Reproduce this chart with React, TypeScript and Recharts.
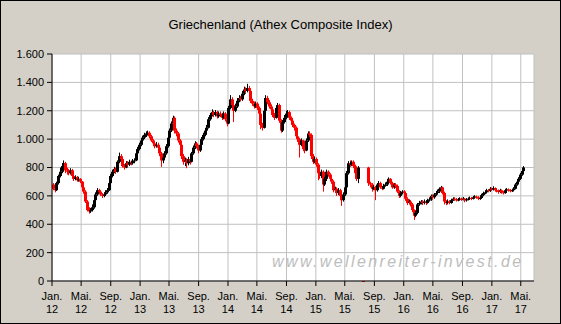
import React from "react";
import { ComposedChart, Bar, XAxis, YAxis, CartesianGrid } from "recharts";

// weekly bars, first week ending 6 Jan 2012
const FIRST_WEEK = Date.UTC(2012, 0, 6);
const WEEK_MS = 7 * 24 * 3600 * 1000;

const opens: (number | null)[] = [
  680, 650, 640, 690, 740, 770, 810, 830, 780, 770,
  760, 780, 740, 720, 730, 710, 720, 700, 660, 630,
  560, 500, 490, 500, 520, 570, 610, 640, 630, 610,
  600, 610, 625, 640, 690, 740, 770, 790, 770, 840,
  880, 860, 810, 800, 830, 820, 840, 830, 845, 850,
  900, 930, 960, 990, 1010, 1030, 1040, 1045, 1020, 990,
  970, 950, 960, 940, 900, 850, 870, 900, 950, 1010,
  1060, 1110, 1150, 1060, 1040, 990, 960, 880, 840, 850,
  830, 860, 840, 900, 940, 970, 950, 920, 960, 1000,
  1030, 1060, 1080, 1140, 1170, 1190, 1170, 1190, 1160, 1180,
  1170, 1150, 1180, 1140, 1110, 1220, 1280, 1240, 1200, 1230,
  1270, 1290, 1280, 1320, 1350, 1340, 1360, 1340, 1270, 1250,
  1230, 1250, 1220, 1180, 1100, 1080, 1200, 1290, 1260, 1230,
  1210, 1170, 1150, 1220, 1240, 1130, 1060, 1120, 1150, 1180,
  1190, 1150, 1130, 1100, 1080, 1020, 1000, 960, 990, 930,
  920, 990, 1040, 1030, 880, 840, 860, 820, 760, 740,
  770, 680, 720, 770, 750, 720, 700, 640, 650, 620,
  640, 600, 570, 610, 660, 760, 830, 820, 840, 810,
  760, 720, null, null, 0, null, null, 800, 690, 680,
  650, 660, 640, 680, 690, 660, 650, 670, 680, 700,
  720, 690, 660, 680, 670, 630, 600, 620, 630, 620,
  580, 550, 560, 540, 500, 460, 480, 540, 550, 560,
  550, 560, 550, 570, 575, 600, 590, 610, 620, 630,
  650, 660, 620, 560, 550, 560, 550, 570, 580, 575,
  570, 575, 580, 575, 580, 570, 575, 580, 585, 580,
  590, 595, 590, 580, 585, 605, 620, 625, 640, 635,
  650, 645, 655, 640, 635, 630, 640, 625, 620, 640,
  645, 640, 635, 640, 650, 680, 700, 720, 750, 775,
];

const closes: (number | null)[] = [
  650, 640, 690, 740, 770, 810, 830, 780, 770, 760,
  780, 740, 720, 730, 710, 720, 700, 660, 630, 560,
  500, 490, 500, 520, 570, 610, 640, 630, 610, 600,
  610, 625, 640, 690, 740, 770, 790, 770, 840, 880,
  860, 810, 800, 830, 820, 840, 830, 845, 850, 900,
  930, 960, 990, 1010, 1030, 1040, 1045, 1020, 990, 970,
  950, 960, 940, 900, 850, 870, 900, 950, 1010, 1060,
  1110, 1150, 1060, 1040, 990, 960, 880, 840, 850, 830,
  860, 840, 900, 940, 970, 950, 920, 960, 1000, 1030,
  1060, 1080, 1140, 1170, 1190, 1170, 1190, 1160, 1180, 1170,
  1150, 1180, 1140, 1110, 1220, 1280, 1240, 1200, 1230, 1270,
  1290, 1280, 1320, 1350, 1340, 1360, 1340, 1270, 1250, 1230,
  1250, 1220, 1180, 1100, 1080, 1200, 1290, 1260, 1230, 1210,
  1170, 1150, 1220, 1240, 1130, 1060, 1120, 1150, 1180, 1190,
  1150, 1130, 1100, 1080, 1020, 1000, 960, 990, 930, 920,
  990, 1040, 1030, 880, 840, 860, 820, 760, 740, 770,
  680, 720, 770, 750, 720, 700, 640, 650, 620, 640,
  600, 570, 610, 660, 760, 830, 820, 840, 810, 760,
  720, 800, null, null, 0, null, null, 690, 680, 650,
  660, 640, 680, 690, 660, 650, 670, 680, 700, 720,
  690, 660, 680, 670, 630, 600, 620, 630, 620, 580,
  550, 560, 540, 500, 460, 480, 540, 550, 560, 550,
  560, 550, 570, 575, 600, 590, 610, 620, 630, 650,
  660, 620, 560, 550, 560, 550, 570, 580, 575, 570,
  575, 580, 575, 580, 570, 575, 580, 585, 580, 590,
  595, 590, 580, 585, 605, 620, 625, 640, 635, 650,
  645, 655, 640, 635, 630, 640, 625, 620, 640, 645,
  640, 635, 640, 650, 680, 700, 720, 750, 775, 800,
];

const highs: (number | null)[] = [
  690, 660, 700, 750, 800, 830, 850, 840, 800, 790,
  795, 790, 750, 745, 740, 735, 725, 705, 670, 640,
  570, 520, 515, 540, 580, 625, 655, 650, 640, 620,
  625, 640, 655, 700, 755, 785, 805, 800, 850, 905,
  895, 870, 825, 845, 845, 855, 850, 860, 865, 910,
  945, 975, 1005, 1025, 1045, 1055, 1060, 1055, 1030, 1000,
  985, 980, 975, 950, 910, 890, 915, 965, 1025, 1075,
  1125, 1165, 1160, 1075, 1050, 1000, 970, 895, 870, 865,
  875, 870, 910, 955, 985, 980, 960, 975, 1015, 1045,
  1075, 1100, 1155, 1185, 1210, 1200, 1205, 1200, 1195, 1195,
  1185, 1195, 1190, 1150, 1235, 1310, 1295, 1250, 1250, 1290,
  1310, 1305, 1340, 1370, 1365, 1390, 1375, 1350, 1285, 1265,
  1265, 1260, 1230, 1190, 1115, 1215, 1310, 1305, 1275, 1245,
  1220, 1185, 1235, 1255, 1250, 1140, 1135, 1170, 1200, 1205,
  1200, 1160, 1140, 1110, 1090, 1035, 1010, 1005, 995, 945,
  1005, 1055, 1055, 1040, 895, 875, 870, 830, 775, 785,
  780, 735, 785, 780, 760, 730, 710, 665, 660, 655,
  650, 610, 625, 675, 775, 845, 850, 850, 850, 820,
  770, 810, null, null, 0, null, null, 805, 700, 690,
  675, 670, 690, 705, 700, 670, 685, 695, 715, 730,
  725, 700, 690, 690, 680, 640, 635, 640, 640, 630,
  590, 575, 570, 550, 505, 495, 550, 565, 570, 570,
  575, 570, 580, 590, 610, 610, 620, 635, 645, 660,
  670, 665, 630, 570, 575, 570, 580, 590, 590, 585,
  585, 590, 588, 592, 585, 585, 590, 595, 592, 600,
  605, 602, 598, 595, 615, 630, 638, 650, 648, 662,
  658, 668, 660, 650, 645, 650, 645, 635, 650, 655,
  652, 648, 650, 662, 690, 712, 732, 762, 790, 810,
];

const lows: (number | null)[] = [
  640, 625, 635, 680, 730, 760, 800, 760, 750, 745,
  750, 730, 705, 710, 700, 700, 690, 650, 615, 550,
  490, 475, 480, 490, 510, 560, 600, 615, 600, 585,
  590, 600, 615, 635, 680, 730, 760, 755, 765, 830,
  845, 800, 785, 795, 805, 810, 815, 820, 830, 845,
  890, 920, 950, 980, 1000, 1015, 1025, 1005, 980, 955,
  935, 940, 925, 880, 805, 830, 860, 890, 940, 1000,
  1050, 1100, 1040, 1020, 975, 940, 860, 820, 810, 795,
  815, 820, 835, 890, 930, 935, 900, 910, 950, 990,
  1020, 1050, 1075, 1130, 1160, 1155, 1160, 1145, 1150, 1155,
  1135, 1140, 1125, 1090, 1105, 1210, 1220, 1120, 1190, 1220,
  1260, 1265, 1270, 1310, 1325, 1330, 1325, 1255, 1235, 1215,
  1220, 1205, 1160, 1070, 1060, 1075, 1190, 1245, 1215, 1195,
  1155, 1135, 1145, 1210, 1115, 1045, 1050, 1110, 1140, 1165,
  1135, 1110, 1085, 1060, 1000, 980, 870, 950, 915, 900,
  915, 980, 1015, 860, 825, 830, 805, 710, 720, 725,
  630, 670, 705, 735, 705, 685, 625, 625, 600, 605,
  570, 530, 560, 600, 650, 750, 805, 810, 795, 740,
  705, 690, null, null, 0, null, null, 670, 660, 630,
  640, 570, 630, 670, 650, 640, 645, 665, 670, 690,
  680, 650, 650, 655, 620, 585, 590, 610, 605, 565,
  535, 540, 525, 485, 430, 450, 470, 530, 540, 535,
  540, 535, 545, 560, 565, 575, 580, 600, 610, 620,
  640, 610, 540, 535, 540, 540, 545, 565, 565, 560,
  562, 568, 565, 568, 555, 560, 568, 572, 570, 575,
  582, 580, 570, 572, 578, 598, 612, 618, 625, 628,
  635, 638, 630, 625, 615, 620, 615, 610, 615, 632,
  630, 625, 628, 632, 645, 672, 692, 712, 742, 765,
];

const tickMonths: [number, number][] = [
  [2012, 0], [2012, 4], [2012, 8],
  [2013, 0], [2013, 4], [2013, 8],
  [2014, 0], [2014, 4], [2014, 8],
  [2015, 0], [2015, 4], [2015, 8],
  [2016, 0], [2016, 4], [2016, 8],
  [2017, 0], [2017, 4],
];
const monthLabels: Record<number, string> = { 0: "Jan.", 4: "Mai.", 8: "Sep." };
const yTicks = [0, 200, 400, 600, 800, 1000, 1200, 1400, 1600];

const X_MIN = Date.UTC(2012, 0, 1);
const X_MAX = Date.UTC(2017, 5, 25);
const xTicks = tickMonths.map(([y, m]) => Date.UTC(y, m, 1));

const FONT = "'Liberation Sans', Arial, sans-serif";

const data = closes.map((c, i) => ({
  t: FIRST_WEEK + i * WEEK_MS,
  o: opens[i],
  c,
  h: highs[i],
  l: lows[i],
  range: c == null ? null : [lows[i], highs[i]],
}));

const fmtDe = (v: number) => String(v).replace(/\B(?=(\d{3})+(?!\d))/g, ".");

function Candle(props: any) {
  const { x, y, width, height, payload } = props;
  if (payload == null || payload.c == null) return null;
  const { o, c, h, l } = payload;
  const top = Math.min(y, y + height);
  const span = Math.abs(height);
  const py = (v: number) => (h === l ? top : top + ((h - v) / (h - l)) * span);
  const cx = Math.round(x + width / 2);
  const color = c <= o ? "#FF0000" : "#000000";
  const b1 = py(Math.max(o, c));
  const b2 = py(Math.min(o, c));
  return (
    <g>
      <rect x={cx} y={top} width={1} height={Math.max(span, 1)} fill={color} />
      <rect x={cx - 1} y={b1} width={3} height={Math.max(b2 - b1, 1)} fill={color} />
    </g>
  );
}

function MonthTick(props: any) {
  const { x, y, payload } = props;
  const d = new Date(payload.value);
  const label = monthLabels[d.getUTCMonth()];
  const yy = String(d.getUTCFullYear()).slice(2);
  return (
    <text x={x} y={y} textAnchor="middle" fontSize={11} fill="#000" fontFamily={FONT}>
      <tspan x={x} dy={12}>{label}</tspan>
      <tspan x={x} dy={13}>{yy}</tspan>
    </text>
  );
}

export default function App() {
  return (
    <div
      style={{
        position: "absolute",
        left: 0,
        top: 0,
        width: 561,
        height: 324,
        background: "#D4D0C8",
        fontFamily: FONT,
      }}
    >
      <div
        style={{
          position: "absolute",
          left: 0,
          top: 0,
          width: 559,
          height: 322,
          border: "1px solid #000",
        }}
      />
      <div
        style={{
          position: "absolute",
          left: 0,
          top: 17,
          width: 561,
          textAlign: "center",
          fontSize: 13,
          color: "#000",
        }}
      >
        Griechenland (Athex Composite Index)
      </div>
      <div style={{ position: "absolute", left: 0, top: 0 }}>
        <ComposedChart
          width={561}
          height={324}
          data={data}
          margin={{ top: 54, right: 27, bottom: 0, left: 0 }}
        >
          <CartesianGrid stroke="#C0C0C0" fill="#FFFFFF" />
          <XAxis
            dataKey="t"
            type="number"
            scale="linear"
            domain={[X_MIN, X_MAX]}
            ticks={xTicks}
            interval={0}
            allowDataOverflow
            height={43}
            tickSize={5}
            axisLine={{ stroke: "#000" }}
            tickLine={{ stroke: "#000" }}
            tick={<MonthTick />}
          />
          <XAxis
            xAxisId="top"
            orientation="top"
            dataKey="t"
            type="number"
            domain={[X_MIN, X_MAX]}
            height={0}
            tick={false}
            tickLine={false}
            axisLine={{ stroke: "#000" }}
          />
          <YAxis
            type="number"
            domain={[0, 1600]}
            ticks={yTicks}
            interval={0}
            width={52}
            tickSize={5}
            tickMargin={3}
            axisLine={{ stroke: "#000" }}
            tickLine={{ stroke: "#000" }}
            tick={{ fontSize: 11, fill: "#000", fontFamily: FONT }}
            tickFormatter={fmtDe}
          />
          <YAxis
            yAxisId="right"
            orientation="right"
            domain={[0, 1600]}
            width={0}
            tick={false}
            tickLine={false}
            axisLine={{ stroke: "#000" }}
          />
          <Bar dataKey="range" barSize={3} shape={<Candle />} isAnimationActive={false} />
        </ComposedChart>
      </div>
      <div
        style={{
          position: "absolute",
          left: 272,
          top: 253,
          fontSize: 16,
          fontStyle: "italic",
          letterSpacing: 2.4,
          color: "#BDBDBD",
          whiteSpace: "nowrap",
        }}
      >
        www.wellenreiter-invest.de
      </div>
    </div>
  );
}
